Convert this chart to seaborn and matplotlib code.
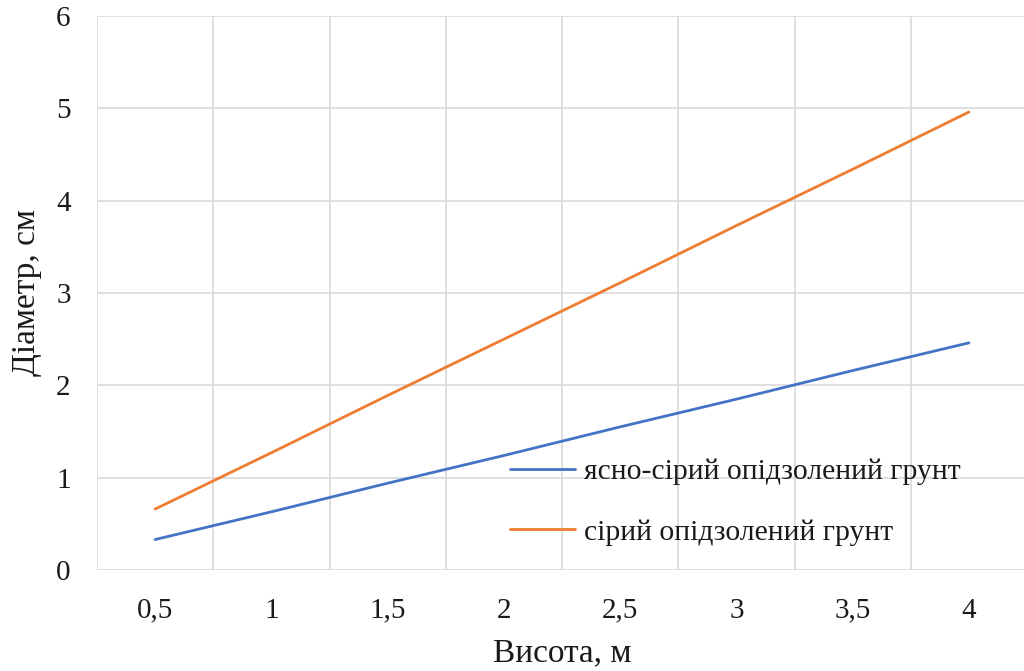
import numpy as np
import pandas as pd
import matplotlib
matplotlib.use("Agg")
import matplotlib.pyplot as plt
from matplotlib.ticker import FixedLocator
from matplotlib.lines import Line2D
import seaborn as sns

# Height categories (m) and stem diameters (cm) for two soil types
heights = ["0,5", "1", "1,5", "2", "2,5", "3", "3,5", "4"]
light_grey_soil = [0.33, 0.63, 0.94, 1.24, 1.55, 1.85, 2.16, 2.46]
grey_soil = [0.66, 1.27, 1.89, 2.50, 3.11, 3.73, 4.34, 4.96]
series_names = ["ясно-сірий опідзолений грунт", "сірий опідзолений грунт"]
y_ticks = [0, 1, 2, 3, 4, 5, 6]
colors = ["#4472C4", "#ED7D31"]

sns.set_theme(style="white")
plt.rcParams["font.family"] = ["Liberation Serif", "DejaVu Serif"]

pos = np.arange(len(heights))
df = pd.DataFrame({
    "pos": np.concatenate([pos, pos]),
    "diameter": light_grey_soil + grey_soil,
    "soil": [series_names[0]] * len(pos) + [series_names[1]] * len(pos),
})

fig = plt.figure(figsize=(10.24, 6.71), dpi=100)
W, H = 1024, 671
ax = fig.add_axes([97 / W, 1 - 570 / H, (1027 - 97) / W, (570 - 16) / H])

sns.lineplot(data=df, x="pos", y="diameter", hue="soil", hue_order=series_names,
             palette=colors, linewidth=2.0, ax=ax, legend=False)

ax.set_xlim(-0.5, len(heights) - 0.5)
ax.set_ylim(0, 6)

# category axis: labels at centres, gridlines between categories
ax.xaxis.set_major_locator(FixedLocator(pos))
ax.set_xticklabels(heights)
ax.xaxis.set_minor_locator(FixedLocator(np.arange(-0.5, len(heights), 1.0)))
ax.set_yticks(y_ticks)
ax.set_yticklabels([str(v) for v in y_ticks])

grid_kw = dict(color="#D9D9D9", linewidth=1.2)
ax.grid(False)
ax.grid(True, which="minor", axis="x", **grid_kw)
ax.grid(True, which="major", axis="y", **grid_kw)
for s in ax.spines.values():
    s.set_visible(False)
ax.set_axisbelow(True)

ax.tick_params(axis="both", which="both", length=0, labelsize=21, colors="#1a1a1a")
ax.tick_params(axis="x", pad=20)
ax.tick_params(axis="y", pad=19)

ax.set_xlabel("Висота, м", fontsize=24, color="#1a1a1a", labelpad=10)
ax.set_ylabel("Діаметр, см", fontsize=24, color="#1a1a1a", labelpad=10)

handles = [Line2D([], [], color=c, linewidth=2.0) for c in colors]
fig.legend(handles, series_names, loc="center left", bbox_to_anchor=(510 / W, 1 - 502 / H),
           frameon=False, fontsize=21.3, handlelength=2.2, handletextpad=0.3,
           labelspacing=1.15, borderpad=0, borderaxespad=0, labelcolor="#1a1a1a")

fig.savefig("out.png", dpi=100)
